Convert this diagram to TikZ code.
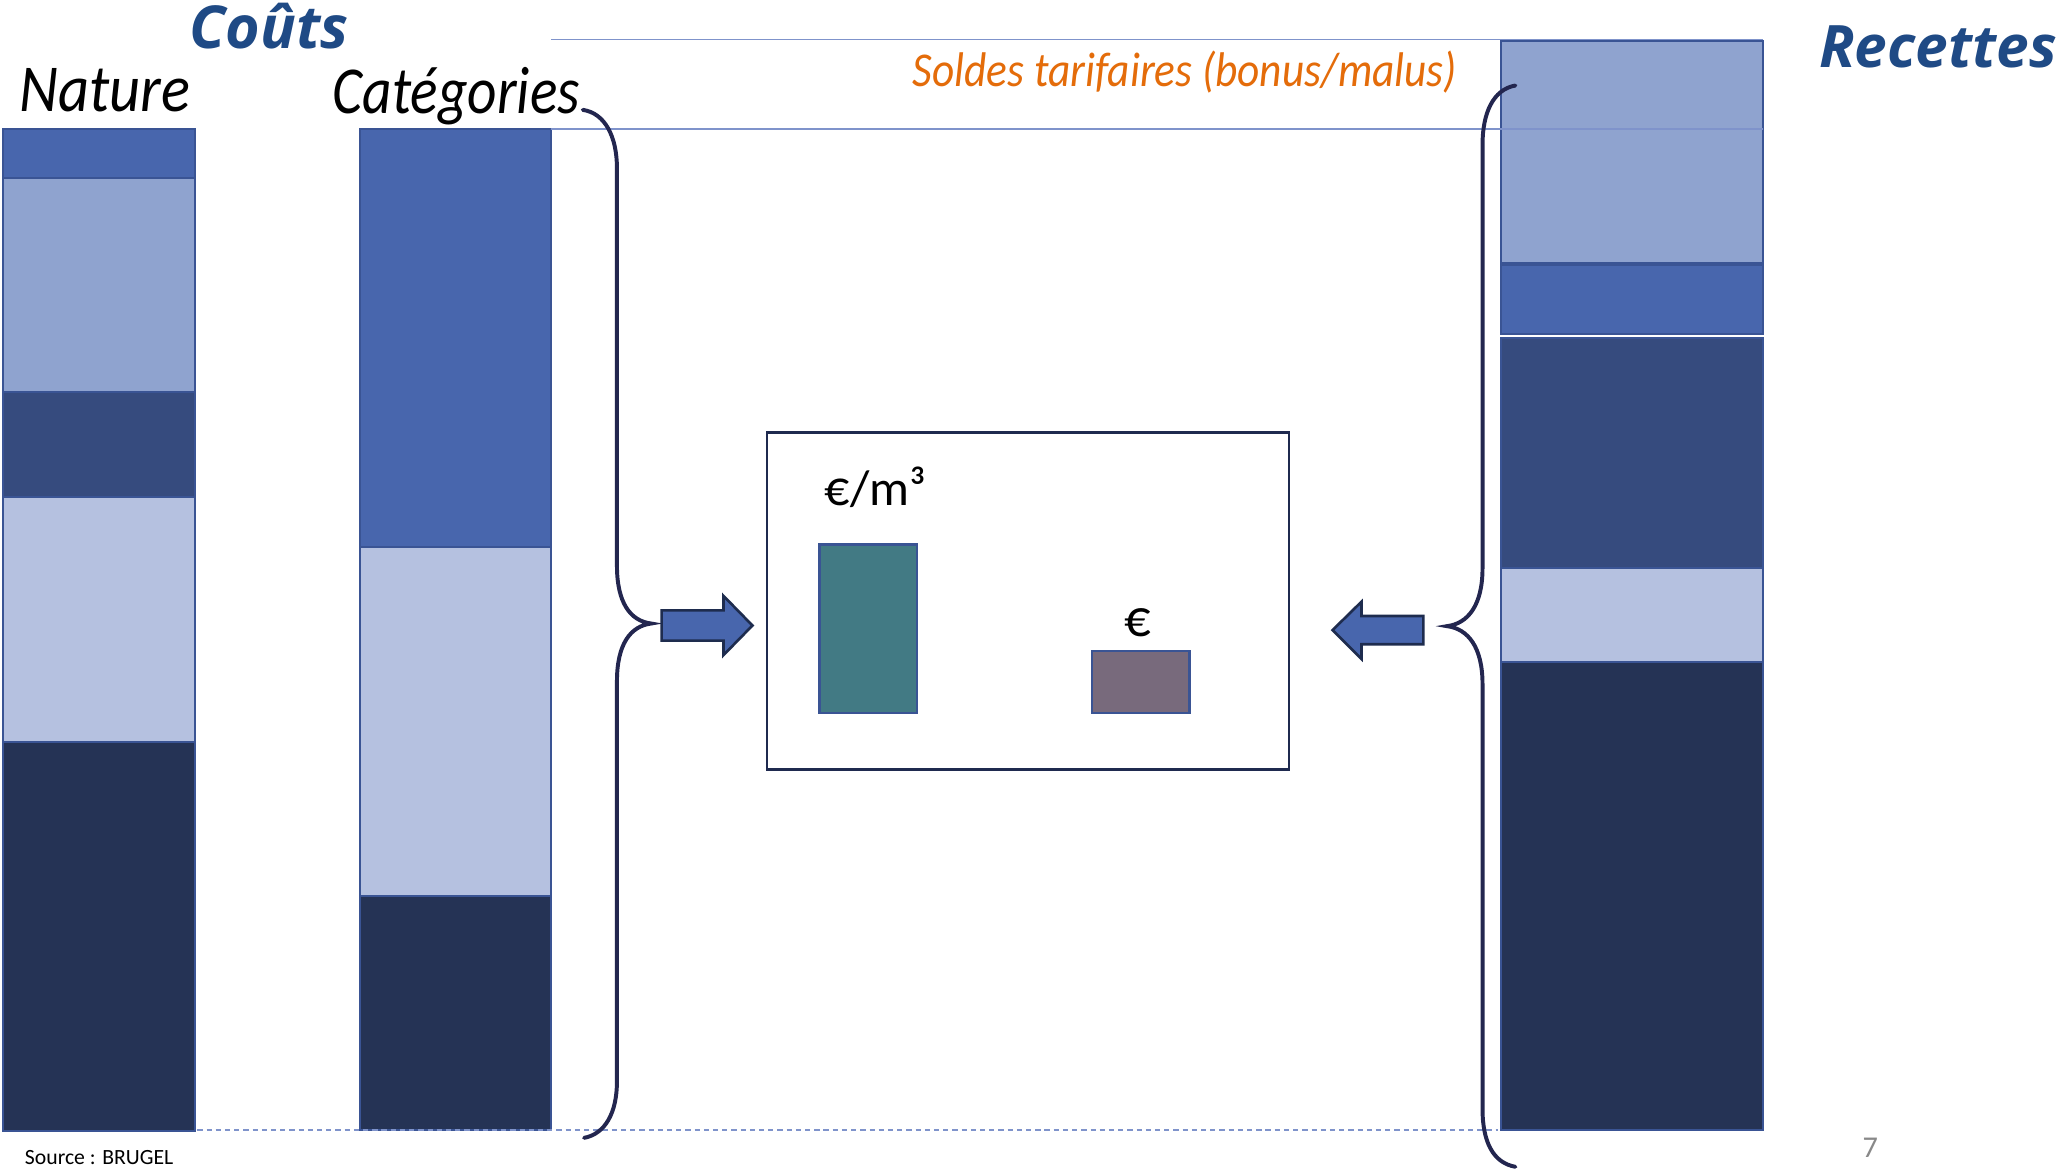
\documentclass[tikz,border=0pt]{standalone}
\usepackage{fontspec}
\usepackage{graphicx}
\setmainfont{Carlito}
\newfontfamily\titlefont{Open Sans}
\definecolor{cMed}{HTML}{4866AD}
\definecolor{cLight}{HTML}{8FA3CF}
\definecolor{cDark}{HTML}{364B7E}
\definecolor{cPale}{HTML}{B5C1E0}
\definecolor{cNavy}{HTML}{253355}
\definecolor{segborder}{HTML}{3A5494}
\definecolor{thinline}{HTML}{7F93CB}
\definecolor{bracecol}{HTML}{23264F}
\definecolor{titleblue}{HTML}{1F4A85}
\definecolor{soldes}{HTML}{E46C0A}
\definecolor{teal}{HTML}{427A84}
\definecolor{mauve}{HTML}{786A7C}
\definecolor{boxborder}{HTML}{1F2A4F}
\definecolor{arrowborder}{HTML}{1E2C4E}
\definecolor{pagegrey}{HTML}{898989}
\begin{document}
\begin{tikzpicture}[x=1pt,y=-1pt,
  seg/.style={draw=segborder,line width=1.5pt},
  thin/.style={draw=thinline,line width=1.4pt},
  brace/.style={draw=bracecol,line width=3pt,line cap=round},
  blockarrow/.style={draw=arrowborder,fill=cMed,line width=2pt,line join=miter},
  lbl/.style={inner sep=0pt,outer sep=0pt}]
\useasboundingbox (0,0) rectangle (1566,888);
\fill[white] (0,0) rectangle (1566,888);
% Nature column
\path[seg,fill=cMed]   (2,98)  rectangle (148,135);
\path[seg,fill=cLight] (2,135) rectangle (148,298);
\path[seg,fill=cDark]  (2,298) rectangle (148,378);
\path[seg,fill=cPale]  (2,378) rectangle (148,564);
\path[seg,fill=cNavy]  (2,564) rectangle (148,860);
% Categories column
\path[seg,fill=cMed]   (274,98)  rectangle (419,416);
\path[seg,fill=cPale]  (274,416) rectangle (419,681);
\path[seg,fill=cNavy]  (274,681) rectangle (419,859);
% Recettes column
\path[seg,fill=cLight] (1141,31)  rectangle (1340,200);
\path[seg,fill=cMed]   (1141,201.5) rectangle (1340,254);
\path[seg,fill=cDark]  (1141,257) rectangle (1340,432);
\path[seg,fill=cPale]  (1141,432) rectangle (1340,503);
\path[seg,fill=cNavy]  (1141,503) rectangle (1340,859);
% thin guide lines
\coordinate (l1a) at (419,30);  \coordinate (l1b) at (1340,30);
\coordinate (l2a) at (419,98);  \coordinate (l2b) at (1340,98);
\draw[thin] (l1a) -- (l1b);
\draw[thin] (l2a) -- (l2b);
\coordinate (dla) at (150,859); \coordinate (dlb) at (1139,859);
\draw[thin,line width=1.3pt,dash pattern=on 4pt off 3pt] (dla) -- (dlb);
% braces
\coordinate (lbt) at (443,83.5);
\coordinate (lbtip) at (495,474);
\coordinate (lbb) at (444,865);
\draw[brace] (lbt) .. controls (460,86) and (469,104) .. (469,128)
  -- (469,430) .. controls (469,458) and (479,472) .. (lbtip)
  .. controls (479,476) and (469,490) .. (469,518)
  -- (469,822) .. controls (469,846) and (460,862) .. (lbb);
\coordinate (rbt) at (1152,65);
\coordinate (rbtip) at (1100,476);
\coordinate (rbb) at (1152,887);
\draw[brace] (rbt) .. controls (1135,68) and (1127,86) .. (1127,110)
  -- (1127,432) .. controls (1127,460) and (1116,474) .. (rbtip)
  .. controls (1116,478) and (1127,492) .. (1127,520)
  -- (1127,843) .. controls (1127,868) and (1135,884) .. (rbb);
% block arrows
\draw[blockarrow] (503,464) -- (550,464) -- (550,453) -- (572,475.5) -- (550,498) -- (550,487) -- (503,487) -- cycle;
\draw[blockarrow] (1082,468.3) -- (1035,468.3) -- (1035,457.4) -- (1013,479) -- (1035,501) -- (1035,489.8) -- (1082,489.8) -- cycle;
% central box
\node[draw=boxborder,line width=2pt,fill=white,minimum width=397pt,minimum height=256pt,inner sep=0pt,anchor=north west] (box) at (582,328) {};
\node[draw=segborder,line width=2pt,fill=teal,minimum width=74pt,minimum height=128pt,inner sep=0pt,anchor=north west] (bar1) at (622,413) {};
\node[draw=segborder,line width=2pt,fill=mauve,minimum width=74pt,minimum height=47pt,inner sep=0pt,anchor=north west] (bar2) at (829,494) {};
\node[lbl,anchor=base west] (unit1) at (627,384) {\fontsize{38}{46}\selectfont €/m³};
\node[lbl,anchor=base] (unit2) at (865,484) {\fontsize{40}{48}\selectfont €};
% titles
\node[lbl,anchor=base west,text=titleblue] (couts) at (144,37) {\titlefont\bfseries\itshape\fontsize{45}{52}\selectfont Coûts};
\node[lbl,anchor=base west,text=titleblue] (recettes) at (1383,51) {\titlefont\bfseries\itshape\fontsize{44.5}{52}\selectfont Recettes};
\node[lbl,anchor=base west] (nature) at (15,85) {\scalebox{0.9}[1]{\fontsize{51}{60}\selectfont\itshape Nature}};
\node[lbl,anchor=base west] (categ) at (253,86) {\scalebox{0.855}[1]{\fontsize{51}{60}\selectfont\itshape Catégories}};
\node[lbl,anchor=base west,text=soldes] (soldes) at (694,66) {\scalebox{0.89}[1]{\fontsize{37}{44}\selectfont\itshape Soldes tarifaires (bonus/malus)}};
\node[lbl,anchor=base west] (source) at (19,885) {\fontsize{16.5}{20}\selectfont Source~: BRUGEL};
\node[lbl,anchor=base west,text=pagegrey] (page) at (1416,880) {\fontsize{23}{28}\selectfont 7};
\end{tikzpicture}
\end{document}
